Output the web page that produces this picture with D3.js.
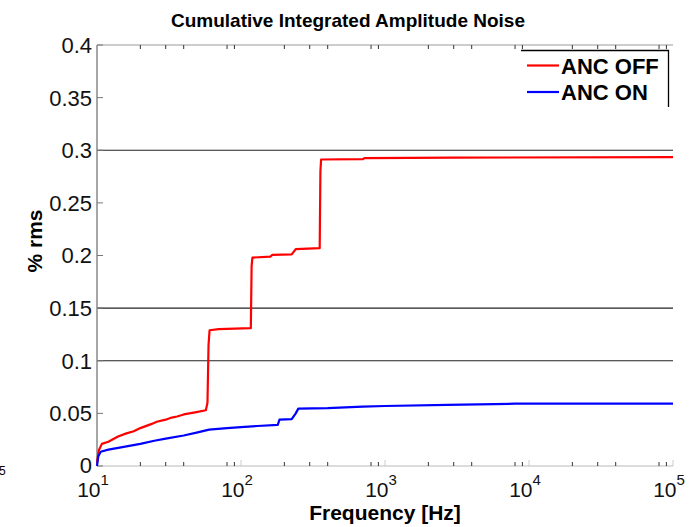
<!DOCTYPE html>
<html>
<head>
<meta charset="utf-8">
<script src="https://cdn.jsdelivr.net/npm/d3@7"></script>
<style>
  body { margin: 0; background: #fff; }
  svg { display: block; font-family: 'Liberation Sans', Arial, sans-serif; }
</style>
</head>
<body>
<div id="chart"></div>
<script>
// data
const freqOff = [10, 10.3, 10.8, 12, 14, 16, 18, 20, 24, 26, 30, 33, 36, 40, 48, 57, 58.5, 59.5, 60.5, 70, 117, 118.5, 120, 160, 165, 225, 240, 352, 356, 360, 700, 720, 3000, 100000]
const ancOff  = [0.003, 0.015, 0.021, 0.023, 0.028, 0.031, 0.033, 0.036, 0.040, 0.042, 0.044, 0.046, 0.047, 0.049, 0.051, 0.053, 0.060, 0.115, 0.129, 0.130, 0.131, 0.190, 0.198, 0.199, 0.2005, 0.201, 0.206, 0.207, 0.280, 0.2912, 0.2915, 0.2925, 0.2930, 0.2935]
const freqOn  = [10, 10.2, 10.6, 12, 15, 20, 25, 30, 40, 50, 60, 80, 100, 130, 180, 185, 225, 240, 250, 400, 700, 1000, 2700, 8000, 100000]
const ancOn   = [0.0, 0.009, 0.0135, 0.0155, 0.018, 0.021, 0.024, 0.026, 0.029, 0.032, 0.0345, 0.036, 0.037, 0.038, 0.039, 0.044, 0.0445, 0.050, 0.0545, 0.055, 0.0565, 0.057, 0.058, 0.0592, 0.0593]
const yTicks = [0, 0.05, 0.1, 0.15, 0.2, 0.25, 0.3, 0.35, 0.4]
const gridValues = [0.1, 0.15, 0.3]
const decades = [1, 2, 3, 4, 5]
const minorMult = [2, 3, 4, 8, 9]
const seriesNames = ['ANC OFF', 'ANC ON']
const seriesColors = ['#ff0000', '#0000ff']

const width = 696, height = 527
const margin = {top: 45, right: 23, bottom: 61, left: 97}
const innerW = width - margin.left - margin.right,
  innerH = height - margin.top - margin.bottom

const svg = d3.select('#chart').append('svg')
  .attr('width', width)
  .attr('height', height)

const x = d3.scaleLog().domain([10, 100000]).range([0, innerW])
const y = d3.scaleLinear().domain([0, 0.4]).range([innerH, 0])

const g = svg.append('g')
  .attr('transform', `translate(${margin.left}, ${margin.top})`)

// horizontal grid lines (only the ones visible in the picture)
g.selectAll('.grid')
  .data(gridValues)
  .enter().append('line')
  .attr('x1', 0)
  .attr('x2', innerW)
  .attr('y1', d => y(d))
  .attr('y2', d => y(d))
  .attr('stroke', '#222')
  .attr('stroke-width', 1.2)

// minor ticks for log axis
const minorTicks = []
decades.slice(0, -1).forEach(e => minorMult.forEach(m => minorTicks.push(m * Math.pow(10, e))))

// bottom axis line
g.append('line')
  .attr('x1', 0).attr('x2', innerW)
  .attr('y1', innerH).attr('y2', innerH)
  .attr('stroke', '#d0d0d0').attr('stroke-width', 1.5)
g.selectAll('.btick')
  .data(minorTicks)
  .enter().append('line')
  .attr('x1', d => x(d)).attr('x2', d => x(d))
  .attr('y1', innerH).attr('y2', innerH - 4)
  .attr('stroke', '#333')
g.selectAll('.bmajor')
  .data(decades.map(e => Math.pow(10, e)))
  .enter().append('line')
  .attr('x1', d => x(d)).attr('x2', d => x(d))
  .attr('y1', innerH).attr('y2', innerH - 6)
  .attr('stroke', '#ccc')

// top border
g.append('line')
  .attr('x1', 0).attr('x2', innerW)
  .attr('y1', 0).attr('y2', 0)
  .attr('stroke', '#999').attr('stroke-width', 1.2)
g.selectAll('.ttick')
  .data(minorTicks)
  .enter().append('line')
  .attr('x1', d => x(d)).attr('x2', d => x(d))
  .attr('y1', 0).attr('y2', 4)
  .attr('stroke', '#333')

// left axis
g.append('line')
  .attr('x1', 0).attr('x2', 0)
  .attr('y1', 0).attr('y2', innerH)
  .attr('stroke', '#888').attr('stroke-width', 1.5)
g.selectAll('.ltick')
  .data(yTicks)
  .enter().append('line')
  .attr('x1', 0).attr('x2', 6)
  .attr('y1', d => y(d)).attr('y2', d => y(d))
  .attr('stroke', '#777')

// y tick labels
g.selectAll('.ylabel')
  .data(yTicks)
  .enter().append('text')
  .text(d => d3.format('~g')(d))
  .attr('x', -5)
  .attr('y', d => y(d))
  .attr('dy', d => d === 0 ? '0.3em' : '0.36em')
  .style('text-anchor', 'end')
  .style('font-size', '22px')
  .style('fill', '#111')

// x tick labels 10^n
const xl = g.selectAll('.xlabel')
  .data(decades)
  .enter().append('text')
  .attr('x', d => x(Math.pow(10, d)) - 4)
  .attr('y', innerH + 31)
  .style('text-anchor', 'middle')
  .style('font-size', '21px')
  .style('fill', '#111')
xl.append('tspan').text('10')
xl.append('tspan').text(d => d)
  .attr('dy', -12)
  .style('font-size', '15px')

// series lines
const line = d3.line()
  .x(d => x(d[0]))
  .y(d => y(d[1]))
const series = [
  d3.zip(freqOff, ancOff),
  d3.zip(freqOn, ancOn)
]
g.selectAll('.series')
  .data(series)
  .enter().append('path')
  .attr('d', line)
  .attr('fill', 'none')
  .attr('stroke', (d, i) => seriesColors[i])
  .attr('stroke-width', 2.2)
  .attr('stroke-linejoin', 'round')

// legend
const lg = svg.append('g')
  .attr('transform', 'translate(521, 50)')
lg.append('path')
  .attr('d', 'M0,0.5H147.5V57')
  .attr('fill', 'none')
  .attr('stroke', '#000')
  .attr('stroke-width', 1.3)
seriesNames.forEach((name, i) => {
  lg.append('line')
    .attr('x1', 6).attr('x2', 38)
    .attr('y1', 15.5 + i * 26.5).attr('y2', 15.5 + i * 26.5)
    .attr('stroke', seriesColors[i])
    .attr('stroke-width', 2.2)
  lg.append('text')
    .text(name)
    .attr('x', 40)
    .attr('y', 23.5 + i * 26.5)
    .style('font-size', '22px')
    .style('font-weight', 'bold')
})

// titles
svg.append('text')
  .text('Cumulative Integrated Amplitude Noise')
  .attr('x', margin.left + innerW / 2 - 37)
  .attr('y', 27)
  .style('text-anchor', 'middle')
  .style('font-size', '19px')
  .style('font-weight', 'bold')

svg.append('text')
  .text('Frequency [Hz]')
  .attr('x', margin.left + innerW / 2)
  .attr('y', 520)
  .style('text-anchor', 'middle')
  .style('font-size', '21px')
  .style('font-weight', 'bold')

svg.append('text')
  .text('% rms')
  .attr('transform', `translate(42, ${241}) rotate(-90)`)
  .style('text-anchor', 'middle')
  .style('font-size', '21px')
  .style('font-weight', 'bold')

// stray tick label fragment at the left edge
svg.append('text')
  .text('5')
  .attr('x', -1)
  .attr('y', 475)
  .style('font-size', '12px')
</script>
</body>
</html>
